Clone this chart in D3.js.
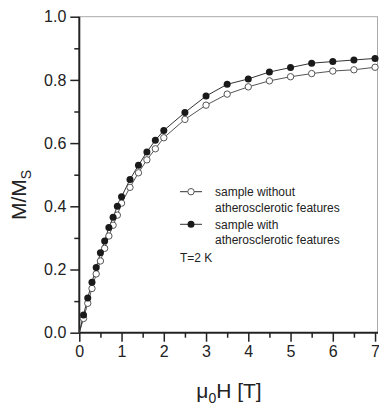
<!DOCTYPE html>
<html><head><meta charset="utf-8">
<script src="https://cdn.jsdelivr.net/npm/d3@7"></script>
<style>body{margin:0;background:#fff}svg{display:block}text{font-family:"Liberation Sans",Arial,sans-serif}</style>
</head><body>
<script>
const fieldT = [0,0.1,0.2,0.3,0.4,0.5,0.6,0.7,0.8,0.9,1.0,1.2,1.4,1.6,1.8,2.0,2.5,3.0,3.5,4.0,4.5,5.0,5.5,6.0,6.5,7.0];
const mWithout = [0,0.045,0.093,0.14,0.186,0.227,0.267,0.306,0.34,0.372,0.41,0.46,0.506,0.547,0.582,0.617,0.675,0.72,0.755,0.778,0.797,0.81,0.82,0.828,0.832,0.84];
const mWith = [0,0.056,0.11,0.16,0.206,0.253,0.29,0.333,0.365,0.40,0.43,0.485,0.53,0.572,0.609,0.64,0.697,0.749,0.786,0.803,0.825,0.839,0.853,0.858,0.863,0.868];
const xTicks = [0,1,2,3,4,5,6,7];
const yTicks = [0,0.2,0.4,0.6,0.8,1.0];
const legendLabels = [["sample without","atherosclerotic features"],["sample with","atherosclerotic features"]];

const W=379,H=406;
const svg=d3.select("body").append("svg").attr("width",W).attr("height",H);
const x=d3.scaleLinear().domain([0,7.07]).range([79.3,378]);
const y=d3.scaleLinear().domain([0,1]).range([332.7,16.7]);

// top & right frame
svg.append("line").attr("x1",x(0)).attr("x2",x(7.07)).attr("y1",y(1)).attr("y2",y(1)).attr("stroke","#aaa").attr("stroke-width",1);
svg.append("line").attr("x1",x(7.07)-0.5).attr("x2",x(7.07)-0.5).attr("y1",y(1)).attr("y2",y(0)).attr("stroke","#aaa").attr("stroke-width",1);

// axes
const yAxis=svg.append("g").attr("transform",`translate(${x(0)},0)`)
  .call(d3.axisLeft(y).tickValues(yTicks).tickFormat(d3.format(".1f")).tickSize(9).tickPadding(4));
svg.append("g").attr("transform",`translate(${x(0)},0)`)
  .call(d3.axisLeft(y).tickValues(d3.range(0.1,1,0.2)).tickFormat("").tickSize(5))
  .call(g=>g.select(".domain").remove());
const xAxis=svg.append("g").attr("transform",`translate(0,${y(0)})`)
  .call(d3.axisBottom(x).tickValues(xTicks).tickFormat(d3.format("d")).tickSize(9).tickPadding(4));
svg.append("g").attr("transform",`translate(0,${y(0)})`)
  .call(d3.axisBottom(x).tickValues(d3.range(0.5,7,1)).tickFormat("").tickSize(5))
  .call(g=>g.select(".domain").remove());
svg.selectAll(".domain").attr("stroke","#222").attr("stroke-width",2);
svg.selectAll(".tick line").attr("stroke","#222").attr("stroke-width",1.5);
svg.selectAll(".tick text").attr("font-size",16).attr("fill","#222").attr("font-family","Liberation Sans, Arial, sans-serif");
yAxis.selectAll(".domain").attr("d",`M-0,${y(1)}V${y(0)}`);
xAxis.selectAll(".domain").attr("d",`M${x(0)},0H${x(7.07)}`);

// lines
const line=d3.line().x((d,i)=>x(fieldT[i])).y(d=>y(d));
svg.append("path").datum(mWithout).attr("d",line).attr("fill","none").attr("stroke","#555").attr("stroke-width",1);
svg.append("path").datum(mWith).attr("d",line).attr("fill","none").attr("stroke","#333").attr("stroke-width",1);

const pts=fieldT.map((t,i)=>i).filter(i=>fieldT[i]>0);
svg.append("g").selectAll("circle").data(pts).join("circle")
  .attr("cx",i=>x(fieldT[i])).attr("cy",i=>y(mWithout[i])).attr("r",3.2)
  .attr("fill","#fff").attr("stroke","#555").attr("stroke-width",1);
svg.append("g").selectAll("circle").data(pts).join("circle")
  .attr("cx",i=>x(fieldT[i])).attr("cy",i=>y(mWith[i])).attr("r",3.5)
  .attr("fill","#1a1a1a");

// legend
const lg=svg.append("g");
const rows=[191.7,224.3];
rows.forEach((ry,k)=>{
  lg.append("line").attr("x1",180).attr("x2",202).attr("y1",ry).attr("y2",ry).attr("stroke","#333").attr("stroke-width",1);
  if(k===0) lg.append("circle").attr("cx",191).attr("cy",ry).attr("r",3.2).attr("fill","#fff").attr("stroke","#555");
  else lg.append("circle").attr("cx",191).attr("cy",ry).attr("r",3.5).attr("fill","#1a1a1a");
  lg.append("text").attr("x",215).attr("y",ry+4.3).attr("font-size",12).attr("fill","#222").text(legendLabels[k][0]);
  lg.append("text").attr("x",215).attr("y",ry+20).attr("font-size",12).attr("fill","#222").text(legendLabels[k][1]);
});
lg.append("text").attr("x",180).attr("y",261.5).attr("font-size",12).attr("fill","#222").text("T=2 K");

// axis titles
const yt=svg.append("text").attr("transform",`translate(26,195) rotate(-90)`)
  .attr("text-anchor","middle").attr("font-size",21).attr("fill","#222");
yt.append("tspan").text("M/M");
yt.append("tspan").attr("font-size",14).attr("dy",5).text("S");
const xt=svg.append("text").attr("x",229).attr("y",398).attr("text-anchor","middle").attr("font-size",21).attr("fill","#222");
xt.append("tspan").text("μ");
xt.append("tspan").attr("font-size",14).attr("dy",5).text("0");
xt.append("tspan").attr("dy",-5).text("H [T]");
</script>
</body></html>
